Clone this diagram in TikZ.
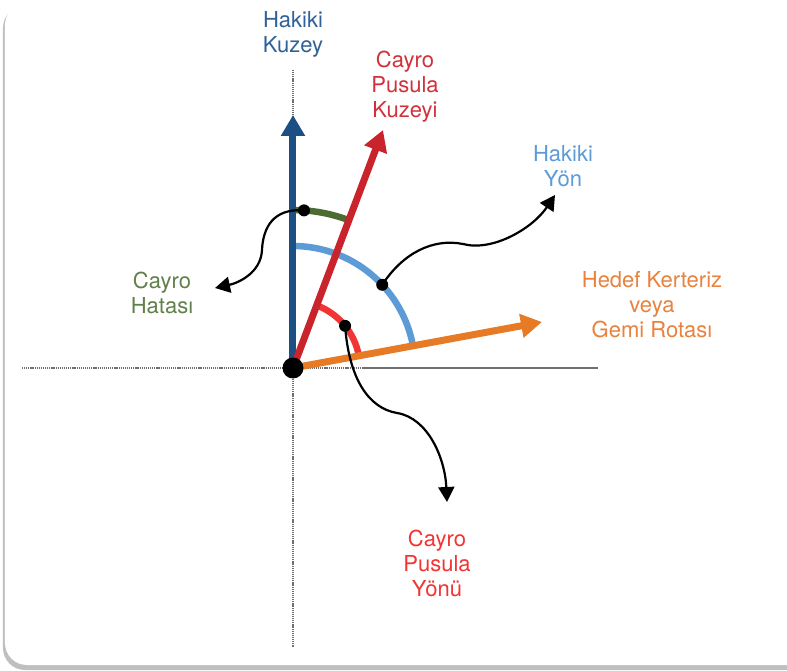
\documentclass[tikz,border=0pt]{standalone}
\usepackage{fontspec}
\setmainfont{TeX Gyre Heros}
\usetikzlibrary{arrows.meta, positioning, calc}
\definecolor{cTrueN}{HTML}{1C5085}
\definecolor{cTrueNTxt}{HTML}{2F6296}
\definecolor{cGyro}{HTML}{C9232C}
\definecolor{cGyroTxt}{HTML}{D2313B}
\definecolor{cCourse}{HTML}{E77A24}
\definecolor{cCourseTxt}{HTML}{E9823E}
\definecolor{cHead}{HTML}{5C9BD6}
\definecolor{cErr}{HTML}{4C6B30}
\definecolor{cErrTxt}{HTML}{61804A}
\definecolor{cGyroHd}{HTML}{F23434}
\definecolor{cAxis}{HTML}{6F6F6F}
\tikzset{
  lbl/.style={
    text=#1, align=center, inner sep=0pt,
    font=\fontsize{22}{25}\selectfont,
  },
  vec/.style={draw=#1, line width=7pt, -{Triangle[length=21pt, width=23pt]}},
  angarc/.style={draw=#1, line width=6.5pt},
  axisln/.style={draw=cAxis, line width=1.8pt, dash pattern=on 1.2pt off 0.9pt},
  pin/.style={circle, fill=black, inner sep=0pt, minimum size=12pt},
  callout/.style={draw=black, line width=2.2pt, -{Triangle[length=15pt, width=16pt]}},
}

\begin{document}
\begin{tikzpicture}[x=1pt, y=1pt]

  % Frame
  \clip (-293,-303) rectangle (494,368);
  \fill[black!25, rounded corners=22pt] (-290,-302) rectangle (520,362);
  \fill[white, rounded corners=22pt] (-288,-297) rectangle (520,365);

  % Axes
  \coordinate (O) at (0,0);
  \draw[axisln] (0,298) -- (0,-279);
  \draw[axisln] (-271,0) -- (305,0);
  \draw[cAxis, line width=1.8pt] (70,0) -- (305,0);

  % Angles
  \draw[angarc=cErr] (O) ++(90:158) arc[start angle=90, end angle=69.3, radius=158];
  \draw[angarc=cHead] (O) ++(90:122) arc[start angle=90, end angle=10.5, radius=122];
  \draw[angarc=cGyroHd] (O) ++(69.3:67) arc[start angle=69.3, end angle=10.5, radius=67];

  % Vectors
  \coordinate (tnTip) at (0,253);
  \coordinate (gyTip) at (90,238);
  \coordinate (crTip) at (249,46);
  \draw[vec=cTrueN] (O) -- (tnTip);
  \draw[vec=cGyro] (O) -- (gyTip);
  \draw[vec=cCourse] (O) -- (crTip);
  \node[pin, minimum size=21pt] (Odot) at (O) {};

  % Labels
  \node[lbl=cTrueNTxt] (tnLbl) at (0,334) {Hakiki\\Kuzey};
  \node[lbl=cGyroTxt] (gyLbl) at (112,281) {Cayro\\Pusula\\Kuzeyi};
  \node[lbl=cHead] (hdLbl) at (270,202) {Hakiki\\Yön};
  \node[lbl=cCourseTxt] (crLbl) at (359,63) {Hedef Kerteriz\\veya\\Gemi Rotası};
  \node[lbl=cErrTxt] (errLbl) at (-131,75) {Cayro\\Hatası};
  \node[lbl=cGyroHd] (ghLbl) at (144,-195) {Cayro\\Pusula\\Yönü};

  % Callouts
  \coordinate (errTip) at (-78,80);
  \coordinate (hdTip) at (262,173);
  \coordinate (ghTip) at (154,-134);
  \node[pin] (errPin) at (86:158) {};
  \node[pin] (hdPin) at (43:122) {};
  \node[pin] (ghPin) at (39:67) {};
  \draw[callout] (errPin.center) .. controls (-20,160) and (-30,140) .. (-31,118)
    .. controls (-32,95) and (-55,85) .. (errTip);
  \draw[callout] (hdPin.center) .. controls (110,115) and (140,130) .. (170,124)
    .. controls (200,116) and (240,140) .. (hdTip);
  \draw[callout] (ghPin.center) .. controls (56,-10) and (75,-40) .. (104,-45)
    .. controls (135,-50) and (152,-90) .. (ghTip);

\end{tikzpicture}
\end{document}
